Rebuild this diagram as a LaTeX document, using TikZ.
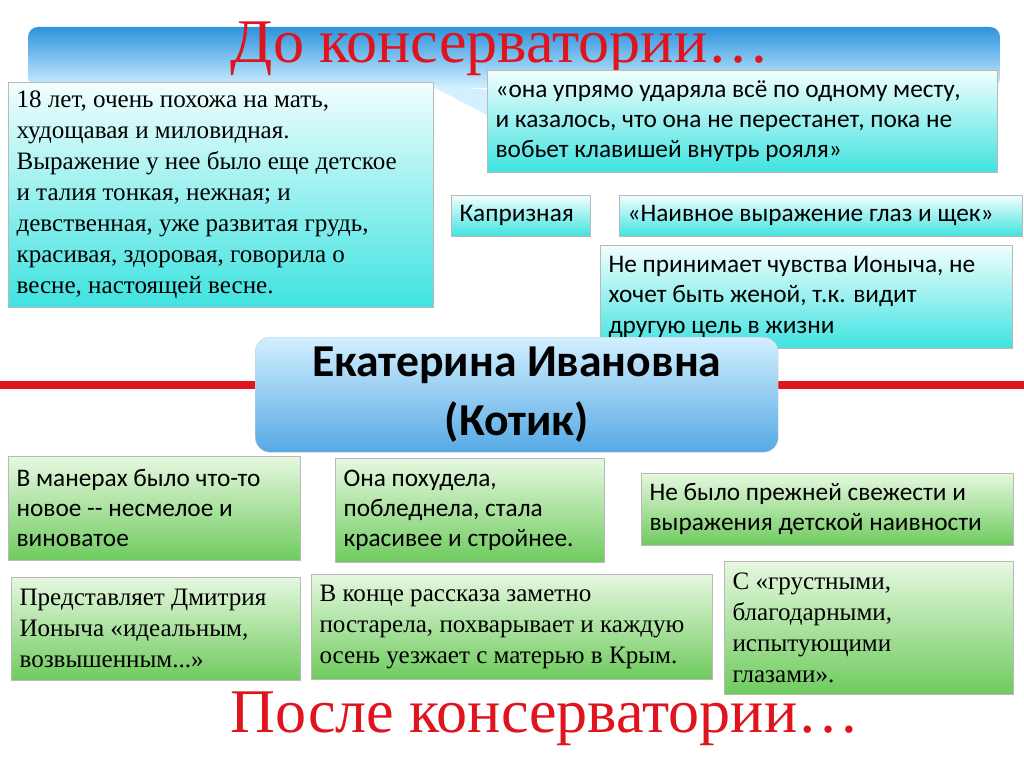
\documentclass[tikz,border=0pt]{standalone}
\usepackage{fontspec}
\setmainfont{Liberation Serif}
\newfontfamily\calfont{Carlito}
\usetikzlibrary{positioning}
\definecolor{cyanlo}{HTML}{3FE3E0}
\definecolor{cyanhi}{HTML}{F2FEFE}
\definecolor{greenlo}{HTML}{6FCB5E}
\definecolor{greenhi}{HTML}{E6F8E0}
\definecolor{bluehi}{HTML}{2C93DD}
\definecolor{bluelo}{HTML}{D2F0FF}
\definecolor{titlered}{HTML}{E0141E}
\tikzset{
  cyanbox/.style={draw=gray!55, top color=cyanhi, bottom color=cyanlo, anchor=north west, align=flush left, inner sep=0.25cm, font=\fontsize{21.4}{26.5}\selectfont},
  greenbox/.style={draw=gray!55, top color=greenhi, bottom color=greenlo, anchor=north west, align=flush left, inner sep=0.25cm, font=\fontsize{21.4}{26.5}\selectfont},
  sans/.style={font=\calfont\fontsize{21.6}{25.8}\selectfont},
  title/.style={text=titlered, font=\fontsize{53}{58}\selectfont}
}
\begin{document}
\begin{tikzpicture}
        \useasboundingbox (0,0) rectangle (30.72,-23.04);
        \fill[white] (0,0) rectangle (30.72,-23.04);

        % banner at the top
        \shade[top color=bluehi, bottom color=bluelo, rounded corners=0.3cm] (0.84,-0.81) rectangle (30.0,-2.64);
        \fill[bluelo] (12.9,-2.55) -- (14.7,-2.7) -- (14.7,-3.5) -- cycle;
        \node[title] (before) at (15.0,-1.45) {До консерватории…};

        % red line behind the name
        \fill[titlered] (0,-11.43) rectangle (30.72,-11.67);

        % boxes before
        \node[cyanbox, text width=12.25cm, minimum height=6.75cm] (look) at (0.24,-2.46) {18 лет, очень похожа на мать,\\худощавая и миловидная.\\Выражение у нее было еще детское\\и талия тонкая, нежная; и\\девственная, уже развитая грудь,\\красивая, здоровая, говорила о\\весне, настоящей весне.};
        \node[cyanbox, sans, text width=14.8cm, minimum height=3.06cm] (piano) at (14.61,-2.1) {«она упрямо ударяла всё по одному месту,\\и казалось, что она не перестанет, пока не\\вобьет клавишей внутрь рояля»};
        \node[cyanbox, sans, text width=3.67cm, minimum height=1.23cm] (whim) at (13.53,-5.85) {Капризная};
        \node[cyanbox, sans, text width=11.59cm, minimum height=1.23cm] (naive) at (18.57,-5.85) {«Наивное выражение глаз и щек»};
        \node[cyanbox, sans, text width=11.86cm, minimum height=3.09cm] (refuse) at (18.0,-7.35) {Не принимает чувства Ионыча, не\\хочет быть женой, т.к. видит\\другую цель в жизни};

        % the name
        \node[draw=gray!40, rounded corners=0.45cm, top color=bluelo, bottom color=bluehi!80, anchor=north west, minimum width=15.69cm, minimum height=3.45cm, align=center, font=\calfont\bfseries\fontsize{39}{50}\selectfont] (name) at (7.65,-10.11) {Екатерина Ивановна\\(Котик)};

        % boxes after
        \node[greenbox, sans, text width=8.26cm, minimum height=3.12cm] (manner) at (0.24,-13.68) {В манерах было что-то\\новое -- несмелое и\\виноватое};
        \node[greenbox, sans, text width=7.57cm, minimum height=3.12cm] (thin) at (10.05,-13.74) {Она похудела,\\побледнела, стала\\красивее и стройнее.};
        \node[greenbox, sans, text width=10.66cm, minimum height=2.16cm] (fresh) at (19.23,-14.19) {Не было прежней свежести и\\выражения детской наивности};
        \node[greenbox, text width=8.17cm, minimum height=3.09cm] (ideal) at (0.33,-17.31) {Представляет Дмитрия\\Ионыча «идеальным,\\возвышенным...»};
        \node[greenbox, text width=11.53cm, minimum height=3.15cm] (crimea) at (9.33,-17.22) {В конце рассказа заметно\\постарела, похварывает и каждую\\осень уезжает с матерью в Крым.};
        \node[greenbox, text width=8.17cm, minimum height=3.99cm] (eyes) at (21.72,-16.83) {С «грустными,\\благодарными,\\испытующими\\глазами».};

        \node[title] (after) at (16.35,-21.55) {После консерватории…};
\end{tikzpicture}
\end{document}
